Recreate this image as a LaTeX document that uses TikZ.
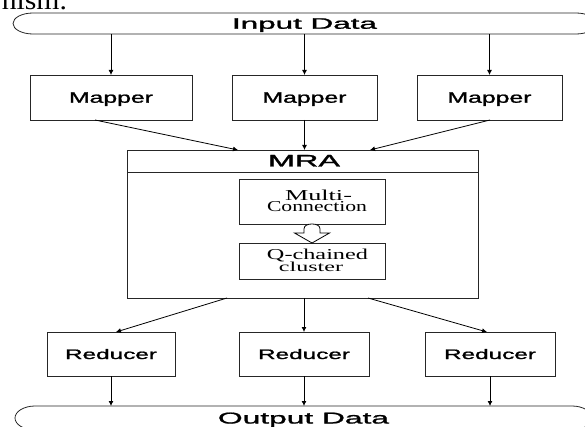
\documentclass[tikz,border=0pt]{standalone}
\usepackage{fontspec}
\setmainfont{Liberation Serif}
\newfontfamily\arialfont[FakeBold=1.2]{Liberation Sans}
\usetikzlibrary{arrows.meta,calc}
\setlength{\lineskiplimit}{-20pt}
\begin{document}
\begin{tikzpicture}[x=1pt,y=-1pt,
  every node/.style={inner sep=0pt, outer sep=0pt},
  stroke/.style={draw=black!85, line width=0.8pt},
  procbox/.style={stroke, rectangle, font=\arialfont, text depth=0pt},
  mapperbox/.style={procbox, minimum height=45pt, text height=10.5pt},
  reducerbox/.style={procbox, minimum height=44pt, text height=10pt},
  innerbox/.style={stroke, rectangle, minimum width=146pt},
  twoline/.style={align=center, font=\fontsize{10pt}{11.5pt}\selectfont},
  band/.style={font=\arialfont, text depth=0pt},
  arrow/.style={draw=black, line width=0.8pt, -{Latex[length=5pt,width=5pt]}},
  hollow/.style={draw=black, line width=0.8pt, fill=white, line join=miter}
]
\useasboundingbox (0,0) rectangle (585,427);

% tail of the preceding sentence
\node[anchor=base east] (fragment) at (67,10)
  {\scalebox{1.1}[1]{\fontsize{27pt}{28pt}\selectfont nism.}};

% input band
\node[band, text height=10.5pt, minimum width=583pt, minimum height=21pt] (input) at (304.5,23.5)
  {\resizebox{145pt}{10.5pt}{Input Data}};
\draw[stroke, shift={(input.center)}]
  (-271.5,-10.5) -- (271.5,-10.5)
  .. controls (282.5,-10.5) and (291.5,-5.8) .. (291.5,0)
  .. controls (291.5,5.8) and (282.5,10.5) .. (271.5,10.5)
  -- (-271.5,10.5)
  .. controls (-282.5,10.5) and (-291.5,5.8) .. (-291.5,0)
  .. controls (-291.5,-5.8) and (-282.5,-10.5) .. (-271.5,-10.5) -- cycle;

% mappers
\node[mapperbox, minimum width=162pt] (map1) at (111,97.5) {\resizebox{84pt}{10.5pt}{Mapper}};
\node[mapperbox, minimum width=145pt] (map2) at (304.5,97.5) {\resizebox{84pt}{10.5pt}{Mapper}};
\node[mapperbox, minimum width=145pt] (map3) at (489.5,97.5) {\resizebox{84pt}{10.5pt}{Mapper}};

% MRA block
\node[procbox, minimum width=351pt, minimum height=148pt] (mra) at (302.5,224) {};
\draw[stroke] ([yshift=-22pt]mra.north west) -- ([yshift=-22pt]mra.north east);
\node[font=\arialfont, anchor=base] (mratitle) at (304,166.5) {\resizebox{72pt}{11.5pt}{MRA}};

% inner boxes; the base anchor of a two-line node sits on its last line
\node[innerbox, minimum height=45pt] (mc) at (312,201.5) {};
\node[twoline, anchor=base] (mctext) at (317,211.5)
  {\resizebox{67pt}{10.5pt}{Multi-}\hspace*{-3pt}\\
   \resizebox{100pt}{10pt}{Connection}};

\node[innerbox, minimum height=36pt] (qc) at (312,261) {};
\node[twoline, anchor=base] (qctext) at (317.5,271)
  {\resizebox{101pt}{10.5pt}{Q-chained}\\
   \resizebox{64pt}{9.5pt}{cluster}\hspace*{13pt}};

% hollow block arrow from Multi-Connection to Q-chained cluster
\draw[hollow, shift={(mc.south)}]
  (-8,9) -- (-8,5) .. controls (-8,1.5) and (-4.5,0) .. (0,0)
  .. controls (4.5,0) and (8,1.5) .. (8,5) -- (8,9) -- (17.5,9)
  -- (0,19) -- (-17.5,9) -- cycle;

% reducers
\node[reducerbox, minimum width=128pt] (red1) at (111,354) {\resizebox{92pt}{10pt}{Reducer}};
\node[reducerbox, minimum width=130pt] (red2) at (304,354) {\resizebox{92pt}{10pt}{Reducer}};
\node[reducerbox, minimum width=130pt] (red3) at (490,354) {\resizebox{92pt}{10pt}{Reducer}};

% output band
\node[band, text height=11pt, minimum width=577pt, minimum height=24pt] (output) at (303.5,418)
  {\resizebox{171pt}{11pt}{Output Data}};
\draw[stroke, shift={(output.center)}]
  (-268.5,-12) -- (268.5,-12)
  .. controls (279.5,-12) and (288.5,-6.6) .. (288.5,0)
  .. controls (288.5,6.6) and (279.5,12) .. (268.5,12)
  -- (-268.5,12)
  .. controls (-279.5,12) and (-288.5,6.6) .. (-288.5,0)
  .. controls (-288.5,-6.6) and (-279.5,-12) .. (-268.5,-12) -- cycle;

% connectors
\foreach \m in {map1,map2,map3}
  \draw[arrow] (input.south -| \m.north) -- (\m.north);
\draw[arrow] ([xshift=-16pt]map1.south) -- ([xshift=-64.5pt]mra.north);
\draw[arrow] (map2.south) -- (map2.south |- mra.north);
\draw[arrow] ([xshift=0.5pt]map3.south) -- ([xshift=67.5pt]mra.north);

\draw[arrow] ([xshift=-75.5pt]mra.south) -- ([xshift=5pt]red1.north);
\draw[arrow] (red2.north |- mra.south) -- (red2.north);
\draw[arrow] ([xshift=65.5pt]mra.south) -- ([xshift=-3pt]red3.north);

\foreach \r in {red1,red2,red3}
  \draw[arrow] (\r.south) -- (\r.south |- output.north);
\end{tikzpicture}
\end{document}
